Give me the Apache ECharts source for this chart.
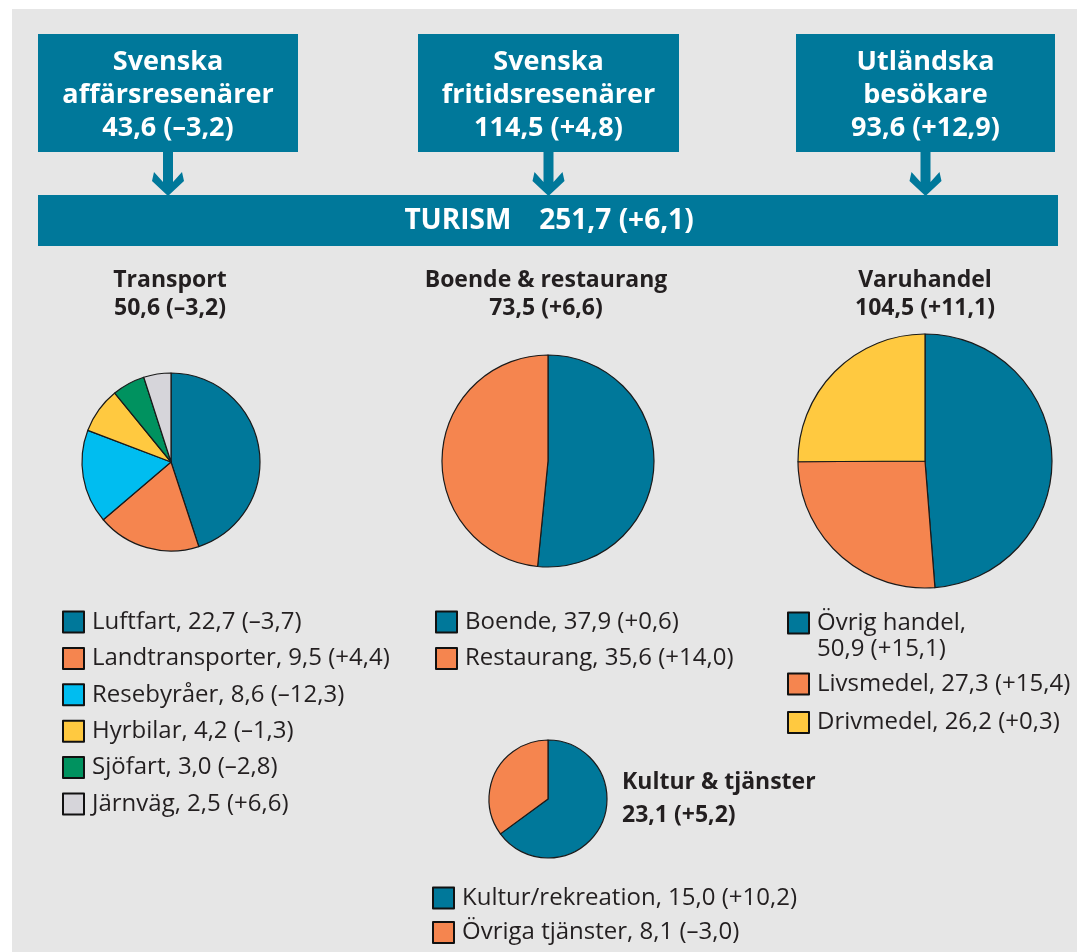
<!DOCTYPE html>
<html>
<head>
<meta charset="utf-8">
<script src="https://cdn.jsdelivr.net/npm/echarts@6/dist/echarts.min.js"></script>
<style>
  html, body { margin: 0; padding: 0; background: #ffffff; }
  #chart { width: 1077px; height: 952px; }
</style>
</head>
<body>
<div id="chart"></div>
<script>
// ---- Data ----
const sourceNames = ['Svenska\naffärsresenärer', 'Svenska\nfritidsresenärer', 'Utländska\nbesökare'];
const sourceValues = [43.6, 114.5, 93.6];
const sourceChanges = [-3.2, 4.8, 12.9];

const totalName = 'TURISM';
const totalValue = 251.7;
const totalChange = 6.1;

const groupNames = ['Transport', 'Boende & restaurang', 'Varuhandel', 'Kultur & tjänster'];
const groupValues = [50.6, 73.5, 104.5, 23.1];
const groupChanges = [-3.2, 6.6, 11.1, 5.2];

const transportNames = ['Luftfart', 'Landtransporter', 'Resebyråer', 'Hyrbilar', 'Sjöfart', 'Järnväg'];
const transportValues = [22.7, 9.5, 8.6, 4.2, 3.0, 2.5];
const transportChanges = [-3.7, 4.4, -12.3, -1.3, -2.8, 6.6];

const boendeNames = ['Boende', 'Restaurang'];
const boendeValues = [37.9, 35.6];
const boendeChanges = [0.6, 14.0];

const varuNames = ['Övrig handel', 'Livsmedel', 'Drivmedel'];
const varuValues = [50.9, 27.3, 26.2];
const varuChanges = [15.1, 15.4, 0.3];

const kulturNames = ['Kultur/rekreation', 'Övriga tjänster'];
const kulturValues = [15.0, 8.1];
const kulturChanges = [10.2, -3.0];

// ---- Styling ----
const C_TEAL = '#00789a';
const C_ORANGE = '#f5854f';
const C_CYAN = '#00bdf0';
const C_YELLOW = '#ffc940';
const C_GREEN = '#00925f';
const C_GREY = '#d6d5da';
const transportColors = [C_TEAL, C_ORANGE, C_CYAN, C_YELLOW, C_GREEN, C_GREY];
const twoColors = [C_TEAL, C_ORANGE];
const threeColors = [C_TEAL, C_ORANGE, C_YELLOW];
const FONT = '"Open Sans", "Noto Sans", sans-serif';
const TXT = '#231f20';

const fmtNum = v => v.toFixed(1).replace('.', ',');
const fmtChg = c => '(' + (c < 0 ? '–' : '+') + fmtNum(Math.abs(c)) + ')';
const valChg = (v, c) => fmtNum(v) + ' ' + fmtChg(c);

function pieData(names, values, colors) {
  return names.map((n, i) => ({ name: n, value: values[i], itemStyle: { color: colors[i] } }));
}
function legendFormatter(names, values, changes, sep, prefix) {
  return function (name) {
    const i = names.indexOf(name);
    return (prefix || '') + name + ',' + (sep || ' ') + valChg(values[i], changes[i]);
  };
}

// ---- Graphic (diagram frame, boxes, arrows) ----
const boxes = [{ x: 38, w: 260 }, { x: 418, w: 261 }, { x: 796, w: 259 }];
const graphics = [];
graphics.push({ type: 'rect', shape: { x: 12, y: 9, width: 1065, height: 943 }, style: { fill: '#e6e6e6' }, z: -10 });
boxes.forEach((b, i) => {
  const cx = b.x + b.w / 2;
  graphics.push({ type: 'rect', shape: { x: b.x, y: 34, width: b.w, height: 118 }, style: { fill: C_TEAL }, z: -5 });
  graphics.push({
    type: 'text', x: cx, y: 95, z: -4,
    style: {
      text: sourceNames[i] + '\n' + valChg(sourceValues[i], sourceChanges[i]),
      fill: '#ffffff', font: 'bold 27px ' + FONT, lineHeight: 33,
      textAlign: 'center', textVerticalAlign: 'middle', align: 'center', verticalAlign: 'middle'
    }
  });
  graphics.push({
    type: 'polygon', z: -5,
    shape: { points: [[cx - 5, 152], [cx + 5, 152], [cx + 5, 182], [cx + 14, 172], [cx + 16, 181], [cx, 196], [cx - 16, 181], [cx - 14, 172], [cx - 5, 182]] },
    style: { fill: C_TEAL }
  });
});
graphics.push({ type: 'rect', shape: { x: 38, y: 195, width: 1020, height: 51 }, style: { fill: C_TEAL }, z: -5 });
graphics.push({
  type: 'text', x: 549, y: 221, z: -4,
  style: {
    text: totalName + '\u2003' + valChg(totalValue, totalChange),
    fill: '#ffffff', font: 'bold 28px ' + FONT,
    textAlign: 'center', textVerticalAlign: 'middle', align: 'center', verticalAlign: 'middle'
  }
});
// Pie titles
const titleX = [170, 546, 925];
titleX.forEach((x, i) => {
  graphics.push({
    type: 'text', x: x, y: 294, z: -4,
    style: {
      text: groupNames[i] + '\n' + valChg(groupValues[i], groupChanges[i]),
      fill: TXT, font: 'bold 23px ' + FONT, lineHeight: 28,
      textAlign: 'center', textVerticalAlign: 'middle', align: 'center', verticalAlign: 'middle'
    }
  });
});
graphics.push({
  type: 'text', x: 622, y: 799, z: -4,
  style: {
    text: groupNames[3] + '\n' + valChg(groupValues[3], groupChanges[3]),
    fill: TXT, font: 'bold 23px ' + FONT, lineHeight: 33,
    textAlign: 'left', textVerticalAlign: 'middle', align: 'left', verticalAlign: 'middle'
  }
});

// ---- Series ----
const pieCommon = {
  type: 'pie', startAngle: 90, clockwise: true, label: { show: false }, labelLine: { show: false },
  silent: true, animation: false, avoidLabelOverlap: false,
  itemStyle: { borderColor: '#1a1a1a', borderWidth: 1.2 },
  emphasis: { disabled: true }
};
const series = [
  Object.assign({}, pieCommon, { name: groupNames[0], center: [171, 462], radius: 89, data: pieData(transportNames, transportValues, transportColors) }),
  Object.assign({}, pieCommon, { name: groupNames[1], center: [548, 461], radius: 106, data: pieData(boendeNames, boendeValues, twoColors) }),
  Object.assign({}, pieCommon, { name: groupNames[2], center: [925, 461], radius: 127, data: pieData(varuNames, varuValues, threeColors) }),
  Object.assign({}, pieCommon, { name: groupNames[3], center: [548, 799], radius: 59, data: pieData(kulturNames, kulturValues, twoColors) })
];

// ---- Legends ----
function legend(data, left, top, gap, fmt, extraText) {
  return {
    data: data, left: left, top: top, orient: 'vertical', padding: 0,
    itemWidth: 21, itemHeight: 21, itemGap: gap, icon: 'rect', selectedMode: false,
    itemStyle: { borderColor: '#111111', borderWidth: 2 },
    textStyle: Object.assign({ fontFamily: FONT, fontSize: 24, color: TXT, lineHeight: 24, padding: [0, 0, 0, 3] }, extraText || {}),
    formatter: fmt
  };
}
const legends = [
  legend(transportNames, 62, 610, 12.4, legendFormatter(transportNames, transportValues, transportChanges)),
  legend(boendeNames, 435, 610, 12.4, legendFormatter(boendeNames, boendeValues, boendeChanges)),
  legend([varuNames[0]], 787, 584, 10, legendFormatter(varuNames, varuValues, varuChanges, '\n', '\n'), { lineHeight: 26 }),
  legend(varuNames.slice(1), 787, 672, 14.5, legendFormatter(varuNames, varuValues, varuChanges)),
  legend(kulturNames, 432, 886, 10.5, legendFormatter(kulturNames, kulturValues, kulturChanges))
];

const chart = echarts.init(document.getElementById('chart'), null, { renderer: 'canvas' });
chart.setOption({
  backgroundColor: '#ffffff',
  animation: false,
  graphic: { elements: graphics },
  legend: legends,
  series: series
});
</script>
</body>
</html>
